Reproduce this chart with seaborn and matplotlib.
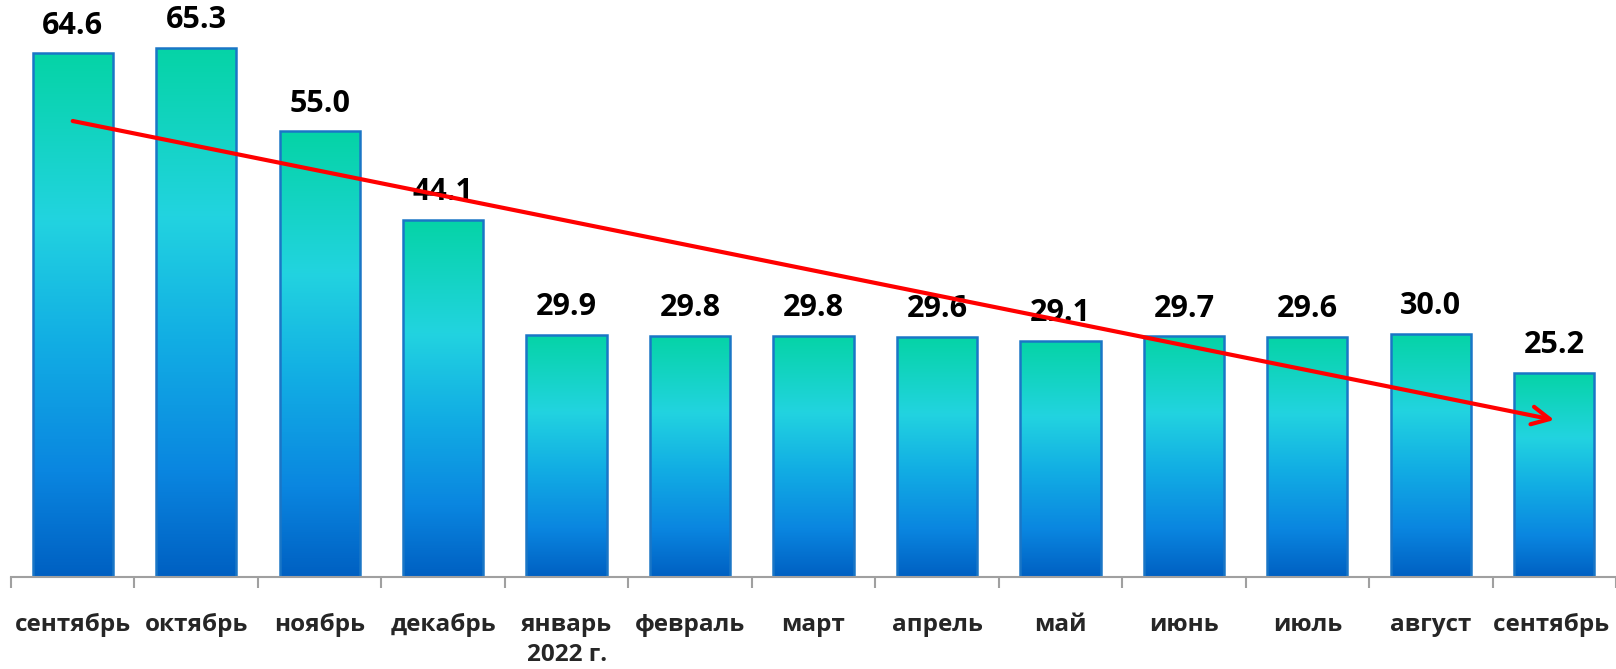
import numpy as np
import pandas as pd
import matplotlib
matplotlib.use("Agg")
import matplotlib.pyplot as plt
import seaborn as sns
from matplotlib.colors import LinearSegmentedColormap

months = ["сентябрь", "октябрь", "ноябрь", "декабрь", "январь\n2022 г.", "февраль",
          "март", "апрель", "май", "июнь", "июль", "август", "сентябрь "]
values = [64.6, 65.3, 55.0, 44.1, 29.9, 29.8, 29.8, 29.6, 29.1, 29.7, 29.6, 30.0, 25.2]

sns.set_style("white")
plt.rcParams['font.family'] = ['Open Sans', 'DejaVu Sans']

df = pd.DataFrame({"month": months, "value": values})

fig = plt.figure(figsize=(16.16, 6.69), dpi=100)
ax = fig.add_axes([0.0068, 0.1375, 0.9932, 0.8625])

sns.barplot(data=df, x="month", y="value", ax=ax, width=0.65,
            edgecolor="#1A76C6", linewidth=1.8, color="white")

# vertical gradient inside each bar (top green -> cyan -> blue)
grad_cmap = LinearSegmentedColormap.from_list(
    "bar", [(0.0, "#0060C2"), (0.2, "#0A86E0"), (0.45, "#12AEE4"),
            (0.68, "#22D3E0"), (1.0, "#05D4A6")])
grad = np.linspace(0, 1, 256).reshape(-1, 1)
for p in ax.patches:
    x0, w, h = p.get_x(), p.get_width(), p.get_height()
    im = ax.imshow(grad, extent=[x0, x0 + w, 0, h], origin="lower",
                   aspect="auto", cmap=grad_cmap, zorder=p.get_zorder() - 0.1)
    im.set_clip_path(p)
    p.set_facecolor("none")

# value labels
for i, v in enumerate(values):
    ax.annotate(f"{v:.1f}", (i, v), xytext=(0, 20), textcoords="offset points",
                ha="center", va="center", fontsize=22, fontweight="bold", color="black")

# trend arrow (linear fit)
xs = np.arange(len(values))
k, b = np.polyfit(xs, values, 1)
ax.annotate("", xy=(xs[-1], k * xs[-1] + b), xytext=(xs[0], b),
            arrowprops=dict(arrowstyle="->", color="#FF0000", lw=3,
                            mutation_scale=32, shrinkA=0, shrinkB=0),
            zorder=5)

ax.set_xlim(-0.5, len(values) - 0.5)
ax.set_ylim(0, 71.2)
ax.set_xlabel("")
ax.set_ylabel("")
ax.set_yticks([])
for s in ["left", "right", "top"]:
    ax.spines[s].set_visible(False)
ax.spines["bottom"].set_color("#A0A0A0")
ax.spines["bottom"].set_linewidth(1.5)

ax.set_xticks(np.arange(-0.5, len(values), 1.0), minor=True)
ax.tick_params(axis="x", which="minor", length=8, width=1.5, color="#A0A0A0", bottom=True)
ax.tick_params(axis="x", which="major", length=0, pad=26, labelsize=17.5)
for lbl in ax.get_xticklabels():
    lbl.set_fontweight("bold")
    lbl.set_va("top")
    lbl.set_linespacing(1.3)

fig.savefig("out.png", dpi=100)
